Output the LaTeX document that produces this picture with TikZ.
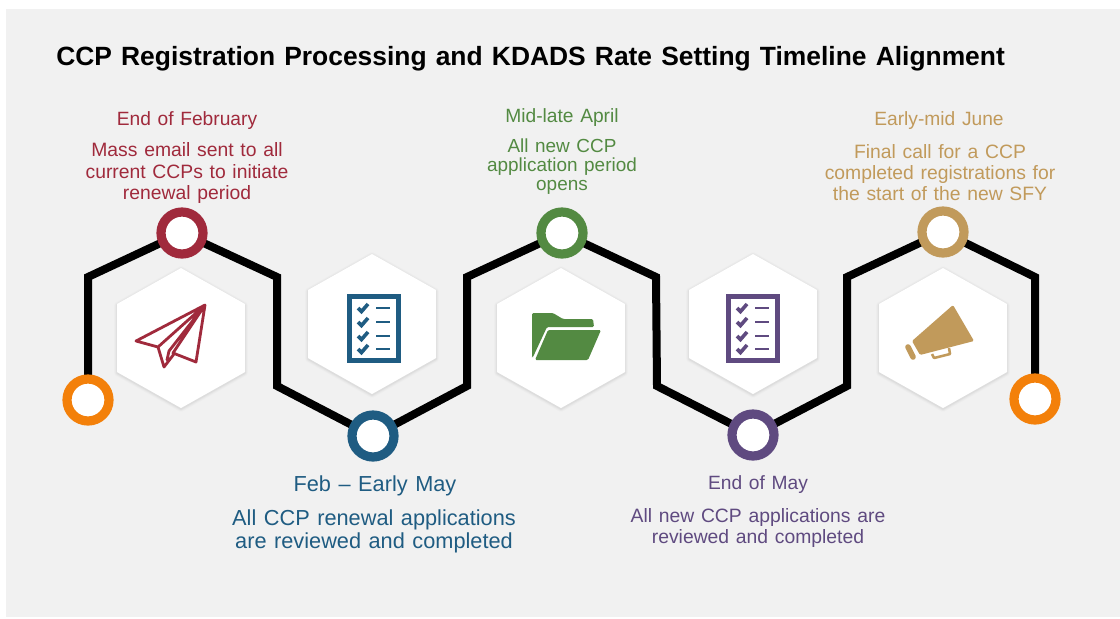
\documentclass[tikz,border=0pt]{standalone}
\usepackage{fontspec}
\setmainfont[WordSpace=1.25]{Liberation Sans}
\definecolor{bgc}{HTML}{F1F1F1}
\definecolor{cred}{HTML}{A02A3C}
\definecolor{cblue}{HTML}{1F5C82}
\definecolor{cgreen}{HTML}{538A42}
\definecolor{cpurple}{HTML}{5F4A80}
\definecolor{cgold}{HTML}{C19A5B}
\definecolor{corange}{HTML}{F3800A}
\newcommand{\hexpath}[2]{(#1,#2-70) -- (#1+64,#2-34) -- (#1+64,#2+34) -- (#1,#2+70) -- (#1-64,#2+34) -- (#1-64,#2-34) -- cycle}
\newcommand{\hexa}[2]{%
  \foreach \w/\o in {6/.012,4.5/.015,3/.02,1.5/.03}{\draw[black,opacity=\o,line width=\w*.75pt,line join=round] \hexpath{#1}{#2+1};}
  \fill[white] \hexpath{#1}{#2};}
\newcommand{\checklist}[2]{% left x, colour
  \draw[#2,line width=3.9pt] (#1+2.5,296.5) rectangle (#1+51.5,360.5);
  \foreach \yy in {308,322,336,349}{
    \draw[#2,line width=2.7pt] (#1+11,\yy) -- (#1+14.5,\yy+3.5) -- (#1+21,\yy-4);
    \draw[#2,line width=2.1pt] (#1+29,\yy) -- (#1+43,\yy);
  }}
\tikzset{
  x=0.75pt,y=-0.75pt,
  dot/.style={circle,fill=white,line width=6.9pt,minimum size=31.5pt,inner sep=0pt},
  track/.style={black,line width=6pt,line join=miter},
  head/.style={align=center,inner sep=0pt,font=\fontsize{14.4pt}{16pt}\selectfont},
  body/.style={align=center,inner sep=0pt,font=\fontsize{14.5pt}{15.8pt}\selectfont},
}
\begin{document}
\begin{tikzpicture}
\useasboundingbox (0,0) rectangle (1120,618);
\fill[white] (0,0) rectangle (1120,618);
\fill[bgc] (6,9) rectangle (1120,617);
\node[font=\bfseries\fontsize{19.8pt}{22pt}\selectfont,anchor=west,inner sep=0pt] (title) at (56,59) {CCP Registration Processing and KDADS Rate Setting Timeline Alignment};
% hexagons
\hexa{181}{338}\hexa{372}{324}\hexa{561}{338}\hexa{753}{324}\hexa{943}{338}
% corners
\coordinate (c1) at (88,277);\coordinate (c2) at (277,277);\coordinate (c3) at (277,386);
\coordinate (c4) at (467,386);\coordinate (c5) at (467,277);\coordinate (c6) at (656,277);
\coordinate (c7) at (657,386);\coordinate (c8) at (847,386);\coordinate (c9) at (847,277);
\coordinate (c10) at (1035,277);
% dots (positions)
\coordinate (pA) at (88,400);\coordinate (pB) at (182,233);\coordinate (pC) at (373,436);
\coordinate (pD) at (562,233);\coordinate (pE) at (753,435);\coordinate (pF) at (943,232);\coordinate (pG) at (1035,399);
\draw[track] (pA) -- (c1) -- (pB) -- (c2) -- (c3) -- (pC) -- (c4) -- (c5) -- (pD) -- (c6) -- (c7) -- (pE) -- (c8) -- (c9) -- (pF) -- (c10) -- (pG);
\node[dot,draw=corange] (dA) at (pA) {};
\node[dot,draw=cred] (dB) at (pB) {};
\node[dot,draw=cblue] (dC) at (pC) {};
\node[dot,draw=cgreen] (dD) at (pD) {};
\node[dot,draw=cpurple] (dE) at (pE) {};
\node[dot,draw=cgold] (dF) at (pF) {};
\node[dot,draw=corange] (dG) at (pG) {};
% plane
\draw[cred,line width=2.1pt,line join=round,line cap=round]
  (205,305) -- (136,341) -- (158,347) -- (205,305) -- (196,362) -- (173,353) -- (205,305)
  (158,347) -- (164,367) -- (174,354)
  (205,305) -- (169,351) -- (167,360);
% checklists
\checklist{347}{cblue}
\checklist{726}{cpurple}
% folder
\fill[cgreen,rounded corners=1pt] (532,313) -- (553,313) -- (563,319) -- (593,319) -- (594,327) -- (547,327) -- (533,357) -- (532,357) -- cycle;
\fill[cgreen,rounded corners=1pt] (548,330) -- (601,330) -- (588,360) -- (535,360) -- cycle;
% megaphone
\fill[cgold,rounded corners=1pt] (953,305) -- (974,341) -- (920,355) -- (912,341) -- cycle;
\draw[cgold,line width=4.2pt,line cap=round] (908,347) -- (913,357);
\draw[cgold,line width=1.9pt,line join=round] (932,354) -- (934,358) -- (950,354) -- (949,348);
% texts
\node[head,text=cred] (t1) at (187,121) {End of February};
\node[body,text=cred] (b1) at (187,173) {Mass email sent to all\\current CCPs to initiate\\renewal period};
\node[head,text=cgreen] (t3) at (562,118) {Mid-late April};
\node[body,text=cgreen,font=\fontsize{14.2pt}{14.3pt}\selectfont] (b3) at (562,167) {All new CCP\\application period\\opens};
\node[head,text=cgold] (t5) at (939,121) {Early-mid June};
\node[body,text=cgold] (b5) at (940,172.5) {Final call for a CCP\\completed registrations for\\the start of the new SFY};
\node[head,text=cblue,font=\fontsize{16.3pt}{18pt}\selectfont] (t2) at (375,486) {Feb – Early May};
\node[body,text=cblue,font=\fontsize{16.3pt}{17.3pt}\selectfont] (b2) at (374,531) {All CCP renewal applications\\are reviewed and completed};
\node[head,text=cpurple] (t4) at (758,485) {End of May};
\node[body,text=cpurple] (b4) at (758,528) {All new CCP applications are\\reviewed and completed};
\end{tikzpicture}
\end{document}
